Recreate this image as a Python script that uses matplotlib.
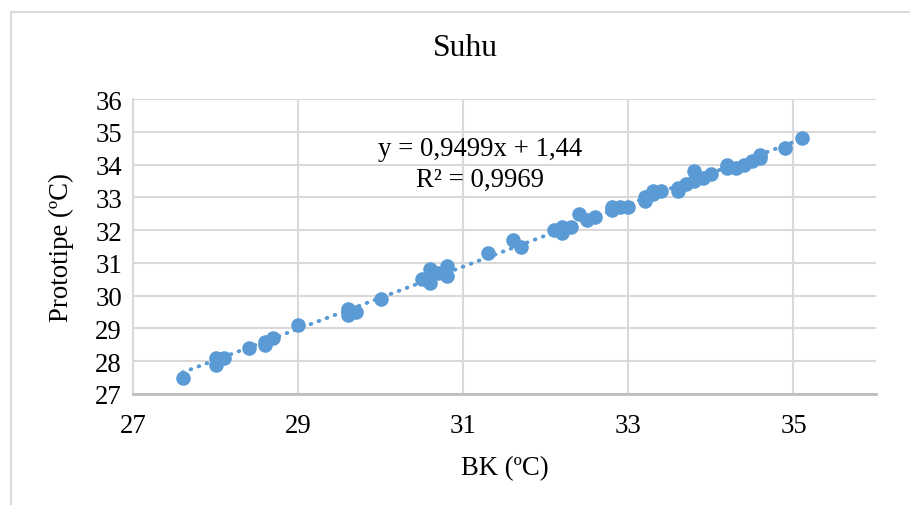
"""Scatter of prototype vs reference (BK) temperature with linear trendline."""

import matplotlib.pyplot as plt
import numpy as np
from matplotlib.patches import Rectangle

plt.rcParams["font.family"] = ["Liberation Serif", "DejaVu Serif"]

BLUE = "#5B9BD5"
GRID = "#D9D9D9"

# BK (reference) readings and prototype readings, in degC
bk = [
    27.6, 28.0, 28.0, 28.1, 28.4, 28.6, 28.6, 28.7, 29.0, 29.6, 29.6, 29.7,
    30.0, 30.5, 30.6, 30.6, 30.7, 30.8, 30.8, 31.3, 31.6, 31.7, 32.1, 32.2,
    32.2, 32.3, 32.4, 32.5, 32.6, 32.8, 32.8, 32.9, 33.0, 33.2, 33.2, 33.3,
    33.3, 33.4, 33.6, 33.6, 33.7, 33.8, 33.8, 33.9, 34.0, 34.2, 34.2, 34.3,
    34.4, 34.5, 34.6, 34.6, 34.9, 35.1,
]
prototipe = [
    27.5, 28.1, 27.9, 28.1, 28.4, 28.5, 28.6, 28.7, 29.1, 29.6, 29.4, 29.5,
    29.9, 30.5, 30.8, 30.4, 30.7, 30.9, 30.6, 31.3, 31.7, 31.5, 32.0, 32.1,
    31.9, 32.1, 32.5, 32.3, 32.4, 32.7, 32.6, 32.7, 32.7, 32.9, 33.0, 33.2,
    33.1, 33.2, 33.3, 33.2, 33.4, 33.5, 33.8, 33.6, 33.7, 34.0, 33.9, 33.9,
    34.0, 34.1, 34.2, 34.3, 34.5, 34.8,
]

slope, intercept = 0.9499, 1.44
x_ticks = [27, 29, 31, 33, 35]
y_ticks = list(range(27, 37))


def main() -> None:
    fig = plt.figure(figsize=(9.1, 5.06), dpi=100)
    ax = fig.add_axes([133 / 910, 1 - 395 / 506, (876 - 133) / 910, 295 / 506])

    # chart area border
    fig.patches.append(Rectangle((11 / 910, -0.1), 1.2, 1.1 - 13 / 506,
                                 transform=fig.transFigure, fill=False,
                                 edgecolor=GRID, linewidth=1.5))

    xs = np.array([min(bk), max(bk)])
    ax.plot(xs, slope * xs + intercept, color=BLUE, linewidth=2.8,
            linestyle=(0, (0.2, 2.0)), dash_capstyle="round", zorder=2)
    ax.plot(bk, prototipe, "o", color=BLUE, markersize=10.5,
            markeredgewidth=0, zorder=3)

    ax.set_xlim(27, 36)
    ax.set_ylim(27, 36)
    ax.set_xticks(x_ticks)
    ax.set_yticks(y_ticks)
    ax.tick_params(length=0, labelsize=19.3, pad=14)
    ax.tick_params(axis="y", pad=8)
    ax.grid(True, color=GRID, linewidth=1.5, zorder=0)
    ax.set_axisbelow(True)
    for side in ("top", "right"):
        ax.spines[side].set_visible(False)
    ax.spines["left"].set_color(GRID)
    ax.spines["left"].set_linewidth(1.5)
    ax.spines["bottom"].set_color("#BFBFBF")
    ax.spines["bottom"].set_linewidth(2)

    ax.set_xlabel("BK (ºC)", fontsize=19.3, labelpad=12)
    ax.set_ylabel("Prototipe (ºC)", fontsize=19.3, labelpad=15)
    fig.text(465 / 910, 1 - 48 / 506, "Suhu", fontsize=22.8,
             ha="center", va="center")
    fig.text(480 / 910, 1 - 150 / 506, "y = 0,9499x + 1,44", fontsize=19.3,
             ha="center", va="center")
    fig.text(480 / 910, 1 - 180 / 506, "R² = 0,9969", fontsize=19.3,
             ha="center", va="center")

    fig.savefig("out.png", dpi=100)


if __name__ == "__main__":
    main()
